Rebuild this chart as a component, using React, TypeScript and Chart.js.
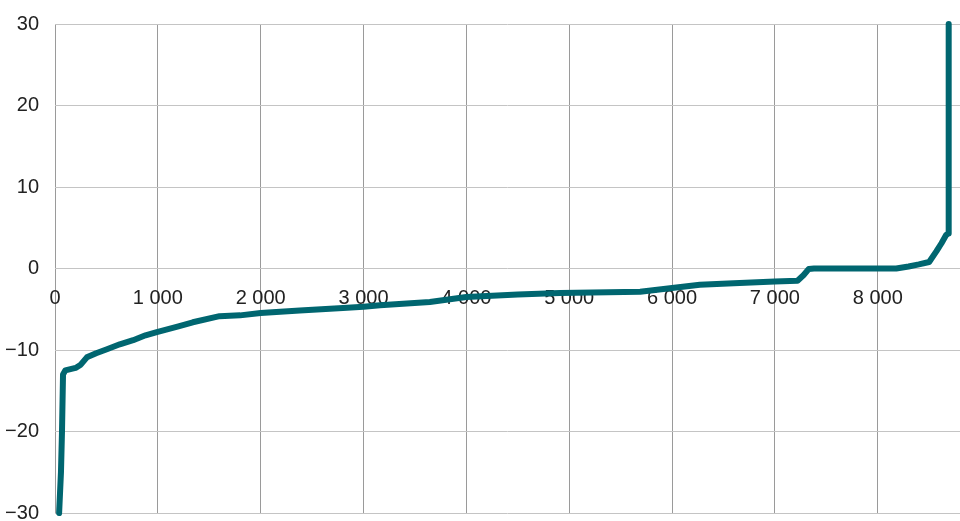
import React, { useEffect, useRef } from "react";
import { Chart, registerables } from "chart.js";

Chart.register(...registerables);

const xValues = [
  40, 58, 68, 78, 100, 200, 250, 310, 400, 505, 630, 760, 880, 990, 1200, 1340, 1600, 1800, 2000, 2380,
  2800, 3000, 3160, 3645, 4000, 4500, 4910, 5690, 6000, 6270, 6600, 7000, 7220, 7280, 7330, 7380, 8180,
  8300, 8400, 8500, 8570, 8620, 8665, 8688, 8690,
];
const yValues = [
  -30, -25, -20, -13, -12.5, -12.2, -11.8, -10.9, -10.4, -9.9, -9.3, -8.8, -8.2, -7.8, -7.1, -6.6, -5.85,
  -5.75, -5.45, -5.15, -4.85, -4.7, -4.5, -4.1, -3.5, -3.2, -3.0, -2.85, -2.4, -2.0, -1.8, -1.6, -1.5, -0.8,
  -0.05, 0, 0, 0.25, 0.5, 0.8, 2.1, 3.1, 4.1, 4.3, 30,
];
const xTicks = [0, 1000, 2000, 3000, 4000, 5000, 6000, 7000, 8000];
const xMin = 0;
const xMax = 8800;
const yTicks = [-30, -20, -10, 0, 10, 20, 30];
const yMin = -30;
const yMax = 30;

const formatThousands = (v: number) => {
  const s = Math.round(v).toString();
  return s.replace(/\B(?=(\d{3})+(?!\d))/g, " ");
};
const formatY = (v: number) => (v < 0 ? "\u2212" + Math.abs(v) : String(v));

export default function App() {
  const ref = useRef<HTMLCanvasElement | null>(null);
  useEffect(() => {
    document.body.style.margin = "0";
    const ctx = ref.current!.getContext("2d")!;
    const data = xValues.map((x, i) => ({ x, y: yValues[i] }));
    const chart = new Chart(ctx, {
      type: "line",
      data: {
        datasets: [
          {
            data,
            borderColor: "#006670",
            borderWidth: 6,
            borderCapStyle: "round",
            borderJoinStyle: "round",
            pointRadius: 0,
            tension: 0,
            clip: false as any,
          },
        ],
      },
      options: {
        animation: false,
        responsive: false,
        maintainAspectRatio: false,
        layout: { padding: { top: 24, bottom: 8, left: 0, right: 0 } },
        plugins: { legend: { display: false }, tooltip: { enabled: false } },
        scales: {
          x: {
            type: "linear",
            position: { y: 0 } as any,
            min: xMin,
            max: xMax,
            border: { display: false },
            grid: { color: "#9a9a9a", lineWidth: 1, drawTicks: false },
            afterBuildTicks: (s: any) => {
              s.ticks = xTicks.map((value) => ({ value }));
            },
            afterFit: (s: any) => {
              s.height = 0;
              s.paddingLeft = 0;
              s.paddingRight = 0;
              s.paddingTop = 0;
              s.paddingBottom = 0;
            },
            ticks: {
              padding: 18,
              maxRotation: 0,
              autoSkip: false,
              color: "#222",
              font: { family: "'Liberation Sans', Arial, sans-serif", size: 20 },
              callback: (v: any) => formatThousands(Number(v)),
            },
          },
          y: {
            type: "linear",
            min: yMin,
            max: yMax,
            border: { display: false },
            grid: { color: "#c4c4c4", lineWidth: 1, drawTicks: false },
            afterBuildTicks: (s: any) => {
              s.ticks = yTicks.map((value) => ({ value }));
            },
            afterFit: (s: any) => {
              s.width = 55;
              s.paddingTop = 0;
              s.paddingBottom = 0;
            },
            ticks: {
              padding: 16,
              color: "#222",
              font: { family: "'Liberation Sans', Arial, sans-serif", size: 20 },
              callback: (v: any) => formatY(Number(v)),
            },
          },
        },
      },
    });
    return () => chart.destroy();
  }, []);
  return (
    <div style={{ position: "fixed", left: 0, top: 0, width: 960, height: 521 }}>
      <canvas ref={ref} width={960} height={521} style={{ display: "block" }} />
    </div>
  );
}
